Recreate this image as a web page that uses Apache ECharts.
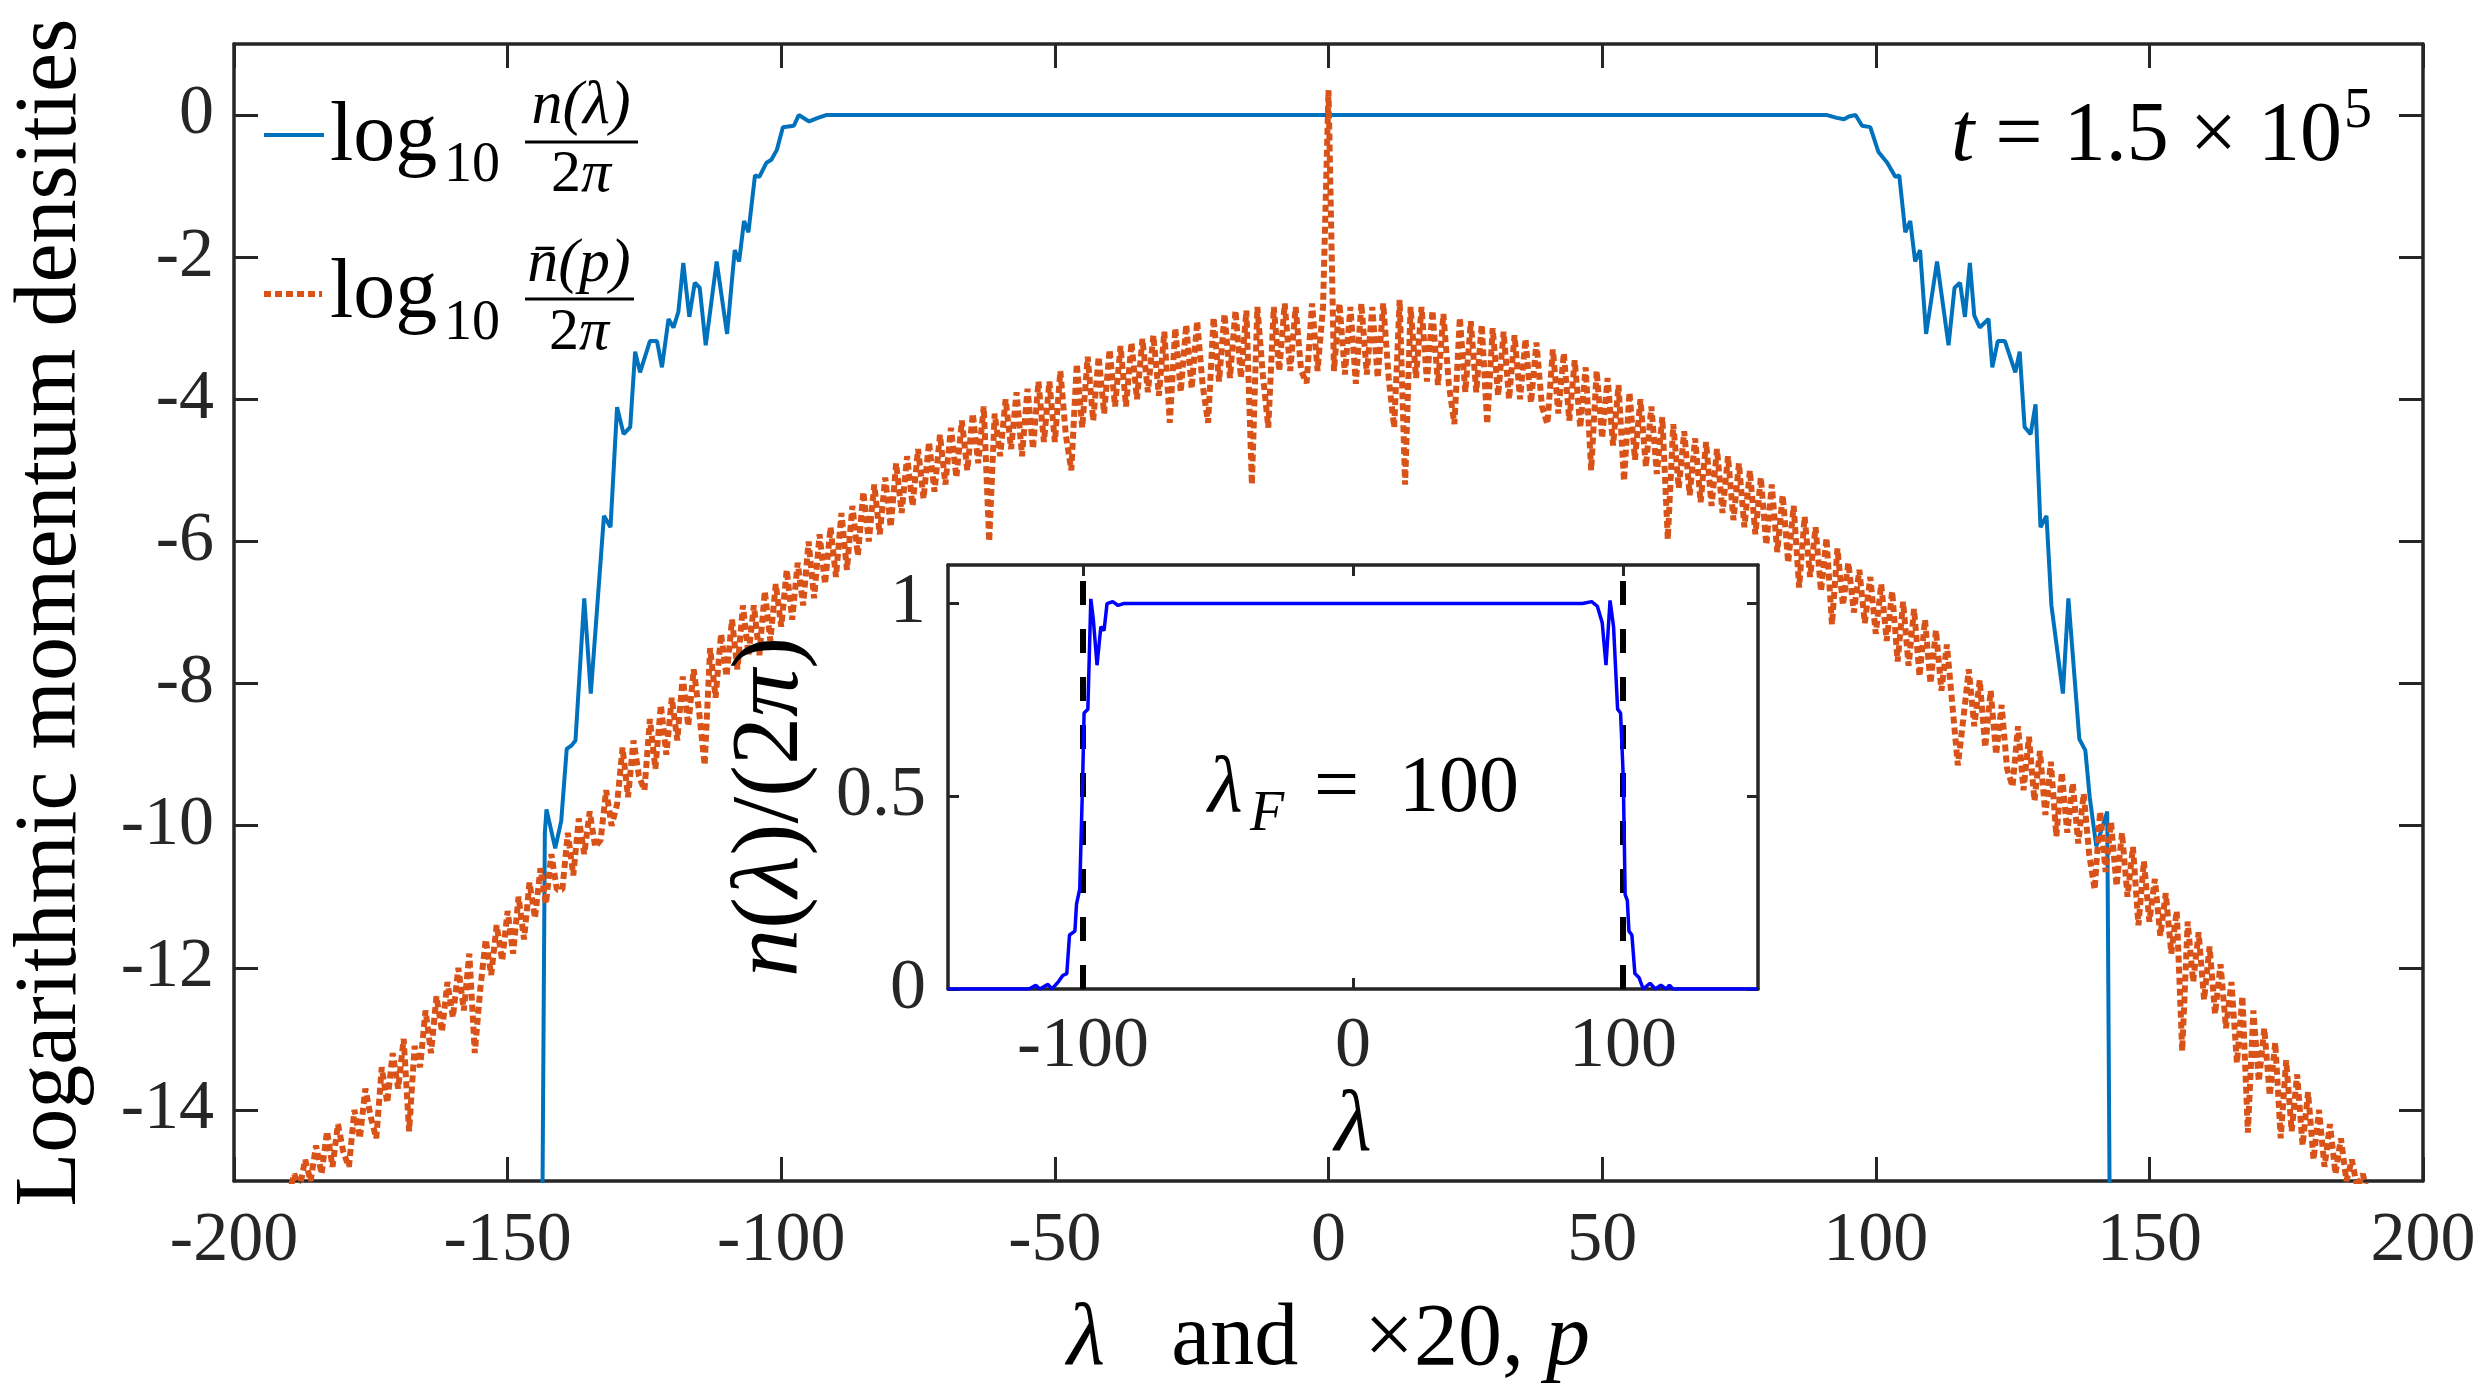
<!DOCTYPE html>
<html>
<head>
<meta charset="utf-8">
<script src="https://cdn.jsdelivr.net/npm/echarts@6/dist/echarts.min.js"></script>
<style>
  html, body { margin: 0; padding: 0; background: #fff; }
  #chart { width: 2490px; height: 1390px; }
</style>
</head>
<body>
<div id="chart"></div>
<script>
// ---- values ----

// log10 n(lambda)/2pi, blue solid (lambda, value)
const lamBlue = [-143.7, -143.2, -142.9, -141.3, -140.2, -139.2, -138.3, -137.6, -136.0, -134.8,
  -132.4, -131.2, -130.0, -128.8, -127.6, -126.7, -125.8, -124.0, -122.7, -121.8,
  -120.6, -119.7, -118.8, -117.9, -116.8, -115.8, -114.9, -113.8, -111.8, -109.9,
  -108.5, -107.7, -106.8, -106.0, -104.8, -104.0, -102.7, -101.8, -100.8, -99.7,
  -97.7, -96.8, -94.9, -93.3, -91.8,
  91.1, 92.9, 94.2, 95.1, 96.3, 97.5, 99.0, 100.5, 102.1, 103.6,
  104.3, 105.4, 106.3, 107.2, 108.1, 109.2, 111.2, 113.3, 114.4, 115.4,
  116.3, 117.2, 118.0, 119.0, 120.6, 121.3, 122.3, 123.6, 125.5, 126.3,
  127.2, 128.3, 129.2, 130.1, 131.2, 132.1, 134.2, 135.2, 137.2, 138.3,
  139.1, 140.3, 142.3, 142.8];
const logNBlue = [-16, -10.1, -9.77, -10.32, -9.93, -8.92, -8.87, -8.8, -6.8, -8.14,
  -5.64, -5.80, -4.11, -4.49, -4.39, -3.33, -3.62, -3.18, -3.18, -3.55,
  -2.87, -2.99, -2.77, -2.08, -2.84, -2.36, -2.43, -3.24, -2.06, -3.08,
  -1.90, -2.06, -1.49, -1.65, -0.85, -0.87, -0.67, -0.63, -0.49, -0.17,
  -0.15, 0, -0.09, -0.04, 0,
  0, -0.04, -0.06, -0.02, 0, -0.15, -0.17, -0.52, -0.67, -0.87,
  -0.85, -1.65, -1.49, -2.06, -1.90, -3.08, -2.06, -3.24, -2.43, -2.36,
  -2.84, -2.08, -2.82, -2.99, -2.87, -3.55, -3.18, -3.18, -3.62, -3.33,
  -4.39, -4.49, -4.07, -5.80, -5.64, -6.9, -8.14, -6.8, -8.78, -8.94,
  -9.6, -10.29, -9.8, -16];

// log10 nbar(p)/2pi, orange dotted, sampled every pStep in 20p from pStart
const pStart = -190;
const pStep = 1;
const logNbar = [
  -15.2, -14.9, -15.1, -14.7, -15.0,   -14.5, -14.9, -14.3, -14.8, -14.2,
  -14.6, -14.8, -14.0, -14.4, -13.7,   -14.1, -14.4, -13.4, -13.9, -13.2,
  -13.7, -13.0, -14.3, -13.1, -13.4,   -12.6, -13.2, -12.4, -12.9, -12.2,
  -12.7, -12.0, -12.6, -11.8, -13.2,   -12.3, -11.6, -12.1, -11.4, -11.9,
  -11.2, -11.8, -11.0, -11.6, -10.8,   -11.3, -10.6, -11.1, -10.4, -10.9,
  -10.9, -10.1, -10.7, -9.9, -10.4,    -9.8, -10.3, -10.2, -9.5, -10.0,
  -9.7, -8.9, -9.6, -8.8, -9.3,        -9.5, -8.5, -9.2, -8.3, -9.0,
  -8.2, -8.8, -7.9, -8.6, -7.8,        -8.4, -9.15, -7.5, -8.2, -7.3,
  -7.9, -7.1, -7.8, -6.9, -7.6,        -6.9, -7.6, -6.7, -7.4, -6.6,
  -7.2, -6.4, -7.1, -6.3, -6.9,        -6.0, -6.8, -5.9, -6.6, -5.8,
  -6.5, -5.6, -6.4, -5.5, -6.2,        -5.3, -6.0, -5.2, -5.9, -5.1,
  -5.8, -4.9, -5.6, -4.8, -5.5,        -4.7, -5.4, -4.6, -5.3, -4.5,
  -5.2, -4.4, -5.1, -4.3, -5.0,        -4.2, -4.9, -4.1, -6.0, -4.2,
  -4.8, -4.0, -4.7, -3.9, -4.8,        -3.85, -4.7, -3.75, -4.6, -3.75,
  -4.6, -3.6, -4.5, -5.0, -3.5,        -4.4, -3.4, -4.3, -3.4, -4.2,
  -3.3, -4.1, -3.25, -4.1, -3.2,       -4.0, -3.15, -3.9, -3.1, -3.95,
  -3.05, -4.33, -3.0, -3.9, -2.95,     -3.85, -2.9, -3.8, -4.33, -2.85,
  -3.75, -2.8, -3.7, -2.75, -3.7,      -2.75, -5.2, -2.7, -3.65, -4.4,
  -2.7, -3.6, -2.65, -3.6, -2.7,       -3.6, -3.77, -2.65, -3.6, -2.7,
  0.35,
  -3.6, -2.65, -3.65, -2.7, -3.78,     -2.65, -3.65, -2.7, -3.7, -2.65,
  -3.7, -4.4, -2.6, -5.2, -2.7,        -3.7, -2.7, -3.75, -2.75, -3.8,
  -2.8, -3.8, -4.35, -2.85, -3.9,      -2.9, -3.9, -2.95, -4.35, -3.0,
  -3.95, -3.05, -4.0, -3.1, -4.0,      -3.15, -4.05, -3.2, -4.1, -4.35,
  -3.3, -4.2, -3.35, -4.3, -3.45,      -4.4, -3.55, -5.0, -3.6, -4.55,
  -3.7, -4.65, -3.8, -5.15, -3.9,      -4.85, -4.0, -4.95, -4.1, -5.05,
  -4.25, -5.97, -4.35, -5.25, -4.45,   -5.35, -4.55, -5.45, -4.6, -5.5,
  -4.7, -5.6, -4.8, -5.7, -4.9,        -5.8, -5.0, -5.9, -5.1, -6.05,
  -5.2, -6.15, -5.35, -6.3, -5.5,      -6.65, -5.65, -6.5, -5.8, -6.7,
  -5.95, -7.17, -6.1, -6.9, -6.3,      -7.0, -6.4, -7.15, -6.5, -7.3,
  -6.6, -7.4, -6.7, -7.69, -6.85,      -7.75, -6.95, -7.9, -7.1, -8.0,
  -7.25, -8.1, -7.45, -8.3, -9.15,     -8.5, -7.8, -8.6, -7.95, -8.9,
  -8.1, -9.0, -8.3, -9.2, -9.45,       -8.6, -9.5, -8.75, -9.65, -8.95,
  -9.85, -9.1, -10.15, -9.25, -10.1,   -9.4, -10.25, -9.55, -10.4, -10.9,
  -9.8, -10.65, -9.95, -10.85, -10.1,  -11.0, -10.3, -11.4, -10.5, -11.35,
  -10.75, -11.55, -10.95, -11.8, -11.2, -13.17, -11.35, -12.2, -11.5, -12.45,
  -11.7, -12.65, -11.95, -12.85, -12.2, -13.34, -12.4, -14.32, -12.6, -13.6,
  -12.85, -13.8, -13.05, -14.4, -13.3, -14.3, -13.5, -14.5, -13.75, -14.7,
  -14.0, -14.8, -14.2, -14.9, -14.4,   -15.0, -14.7, -15.1, -14.9, -15.2
];

// inset: n(lambda)/(2pi), linear
const lamInset = [-150, -120, -117.5, -116, -113, -111.5, -109, -107.5, -106, -105,
  -103, -102.4, -101.2, -100.1, -99.6, -98.2, -97.1, -96.2, -94.8, -93.4,
  -92.2, -91.1, -89, -87, -85,
  85, 88.4, 90.5, 92.3, 93.7, 95.2, 96.5, 98, 99.1, 100.1,
  100.8, 101.6, 102.2, 103.3, 104.4, 105.9, 107.5, 110, 112, 114,
  116, 117.2, 118.5, 150];
const nInset = [0, 0, 0.01, 0, 0.012, 0, 0.02, 0.035, 0.04, 0.14,
  0.15, 0.22, 0.26, 0.55, 0.716, 0.726, 1.012, 0.96, 0.84, 0.94,
  0.93, 1.0, 1.005, 0.995, 1.0,
  1.0, 1.005, 0.993, 0.95, 0.84, 1.008, 0.94, 0.726, 0.716, 0.55,
  0.245, 0.23, 0.15, 0.14, 0.04, 0.03, 0, 0.015, 0, 0.01,
  0, 0.01, 0, 0];
const fermiEdges = [-100, 100];

// tick labels
const yTicksMain = [-14, -12, -10, -8, -6, -4, -2, 0];
const xTicksInset = [-100, 0, 100];
const yTicksInset = [0, 0.5, 1];

// ---- chart ----
const SERIF = '"Liberation Serif", "Times New Roman", serif';
const AXIS = '#262626';
const BLUE = '#0072BD';
const ORANGE = '#D95319';

const blueData = lamBlue.map((x, i) => [x, logNBlue[i]]);
const orangeData = logNbar.map((v, i) => [pStart + i * pStep, v]);
const insetData = lamInset.map((x, i) => [x, nInset[i]]);

const italic = (size) => ({ fontSize: size, fontFamily: SERIF, fontStyle: 'italic', color: '#000', fill: '#000' });

function frameAxis(extra) {
  return Object.assign({
    type: 'value',
    axisLine: { show: true, onZero: false, lineStyle: { color: AXIS, width: 3.5 } },
    axisTick: { show: true, inside: true, length: 24, lineStyle: { color: AXIS, width: 3 } },
    axisLabel: { show: false },
    splitLine: { show: false }
  }, extra);
}

const chart = echarts.init(document.getElementById('chart'), null, { renderer: 'canvas' });

const option = {
  animation: false,
  backgroundColor: '#fff',
  grid: [
    { left: 225, top: 44, right: 67, bottom: 208, containLabel: false },
    { left: 948, top: 565, width: 810, height: 424, show: true, backgroundColor: '#fff', borderWidth: 0, z: 3 }
  ],
  xAxis: [
    frameAxis({
      gridIndex: 0, position: 'bottom', min: -200, max: 200, interval: 50,
      axisLabel: { show: true, margin: 26, fontSize: 70, fontFamily: SERIF, color: AXIS },
      name: '{i|λ}   and   ×20, {i|p}', nameLocation: 'middle', nameGap: 116,
      nameTextStyle: { fontSize: 88, fontFamily: SERIF, color: '#000', rich: { i: italic(88) } }
    }),
    frameAxis({ gridIndex: 0, position: 'top', min: -200, max: 200, interval: 50 }),
    frameAxis({
      gridIndex: 1, position: 'bottom', min: -150, max: 150, z: 4,
      axisTick: { show: true, inside: true, length: 11, customValues: xTicksInset, lineStyle: { color: AXIS, width: 3 } },
      axisLabel: { show: true, customValues: xTicksInset, margin: 22, fontSize: 72, fontFamily: SERIF, color: AXIS },
      name: 'λ', nameLocation: 'middle', nameGap: 92,
      nameTextStyle: italic(86)
    }),
    frameAxis({
      gridIndex: 1, position: 'top', min: -150, max: 150, z: 4,
      axisTick: { show: true, inside: true, length: 11, customValues: xTicksInset, lineStyle: { color: AXIS, width: 3 } }
    })
  ],
  yAxis: [
    frameAxis({
      gridIndex: 0, position: 'left', min: -15, max: 1,
      axisTick: { show: true, inside: true, length: 24, customValues: yTicksMain, lineStyle: { color: AXIS, width: 3 } },
      axisLabel: { show: true, customValues: yTicksMain, margin: 20, fontSize: 70, fontFamily: SERIF, color: AXIS },
      name: 'Logarithmic momentum densities', nameLocation: 'middle', nameRotate: 90, nameGap: 138,
      nameTextStyle: { fontSize: 88, fontFamily: SERIF, color: '#000' }
    }),
    frameAxis({
      gridIndex: 0, position: 'right', min: -15, max: 1,
      axisTick: { show: true, inside: true, length: 24, customValues: yTicksMain, lineStyle: { color: AXIS, width: 3 } }
    }),
    frameAxis({
      gridIndex: 1, position: 'left', min: 0, max: 1.1, z: 4,
      axisTick: { show: true, inside: true, length: 11, customValues: yTicksInset, lineStyle: { color: AXIS, width: 3 } },
      axisLabel: { show: true, customValues: yTicksInset, margin: 22, fontSize: 72, fontFamily: SERIF, color: AXIS },
      name: '{i|n}({i|λ})/(2{i|π})', nameLocation: 'middle', nameRotate: 90, nameGap: 128,
      nameTextStyle: {
        fontSize: 96, fontFamily: SERIF, color: '#000', padding: [0, 60, 0, 0],
        rich: { i: italic(96) }
      }
    }),
    frameAxis({
      gridIndex: 1, position: 'right', min: 0, max: 1.1, z: 4,
      axisTick: { show: true, inside: true, length: 11, customValues: yTicksInset, lineStyle: { color: AXIS, width: 3 } }
    })
  ],
  series: [
    {
      name: 'log10 n(λ)/2π', type: 'line', xAxisIndex: 0, yAxisIndex: 0,
      data: blueData, showSymbol: false, clip: true, z: 2,
      lineStyle: { color: BLUE, width: 4 }
    },
    {
      name: 'log10 nbar(p)/2π', type: 'line', xAxisIndex: 0, yAxisIndex: 0,
      data: orangeData, showSymbol: false, clip: true, z: 2,
      lineStyle: { color: ORANGE, width: 6, type: [7, 4], cap: 'butt' }
    },
    {
      name: 'n(λ)/(2π)', type: 'line', xAxisIndex: 2, yAxisIndex: 2,
      data: insetData, showSymbol: false, clip: true, z: 5,
      lineStyle: { color: '#0000FF', width: 3.5 },
      markLine: {
        silent: true, symbol: ['none', 'none'], label: { show: false },
        lineStyle: { color: '#000', width: 6, type: [24, 24] },
        data: fermiEdges.map(v => ({ xAxis: v }))
      }
    }
  ],
  graphic: [
    // legend, entry 1
    { type: 'line', shape: { x1: 264, y1: 135, x2: 324, y2: 135 }, style: { stroke: BLUE, lineWidth: 4 } },
    { type: 'text', x: 330, y: 138, style: { text: 'log', fontSize: 84, fontFamily: SERIF, fill: '#000', align: 'left', verticalAlign: 'middle' } },
    { type: 'text', x: 444, y: 166, style: { text: '10', fontSize: 56, fontFamily: SERIF, fill: '#000', align: 'left', verticalAlign: 'middle' } },
    { type: 'text', x: 581, y: 107, style: { text: 'n(λ)', fontSize: 62, fontFamily: SERIF, fontStyle: 'italic', fill: '#000', align: 'center', verticalAlign: 'middle' } },
    { type: 'line', shape: { x1: 525, y1: 142, x2: 638, y2: 142 }, style: { stroke: '#000', lineWidth: 3 } },
    { type: 'text', x: 581, y: 175, style: { text: '2{i|π}', fontSize: 60, fontFamily: SERIF, fill: '#000', align: 'center', verticalAlign: 'middle', rich: { i: italic(60) } } },
    // legend, entry 2
    { type: 'line', shape: { x1: 264, y1: 294, x2: 322, y2: 294 }, style: { stroke: ORANGE, lineWidth: 6, lineDash: [7, 4] } },
    { type: 'text', x: 330, y: 295, style: { text: 'log', fontSize: 84, fontFamily: SERIF, fill: '#000', align: 'left', verticalAlign: 'middle' } },
    { type: 'text', x: 444, y: 324, style: { text: '10', fontSize: 56, fontFamily: SERIF, fill: '#000', align: 'left', verticalAlign: 'middle' } },
    { type: 'text', x: 579, y: 265, style: { text: 'n\u0304(p)', fontSize: 62, fontFamily: SERIF, fontStyle: 'italic', fill: '#000', align: 'center', verticalAlign: 'middle' } },
    { type: 'line', shape: { x1: 525, y1: 299, x2: 634, y2: 299 }, style: { stroke: '#000', lineWidth: 3 } },
    { type: 'text', x: 579, y: 333, style: { text: '2{i|π}', fontSize: 60, fontFamily: SERIF, fill: '#000', align: 'center', verticalAlign: 'middle', rich: { i: italic(60) } } },
    // time stamp
    {
      type: 'text', x: 2342, y: 138,
      style: {
        text: '{i|t} = 1.5 × 10', fontSize: 84, fontFamily: SERIF, fill: '#000', align: 'right', verticalAlign: 'middle',
        rich: { i: italic(84) }
      }
    },
    { type: 'text', x: 2344, y: 112, style: { text: '5', fontSize: 56, fontFamily: SERIF, fill: '#000', align: 'left', verticalAlign: 'middle' } },
    // inset annotation
    { type: 'text', x: 1208, y: 790, z: 10, style: { text: 'λ', fontSize: 80, fontFamily: SERIF, fontStyle: 'italic', fill: '#000', align: 'left', verticalAlign: 'middle' } },
    { type: 'text', x: 1250, y: 815, z: 10, style: { text: 'F', fontSize: 56, fontFamily: SERIF, fontStyle: 'italic', fill: '#000', align: 'left', verticalAlign: 'middle' } },
    { type: 'text', x: 1314, y: 790, z: 10, style: { text: '=  100', fontSize: 80, fontFamily: SERIF, fill: '#000', align: 'left', verticalAlign: 'middle' } }
  ]
};

chart.setOption(option);
window.addEventListener('resize', () => chart.resize());
</script>
</body>
</html>
